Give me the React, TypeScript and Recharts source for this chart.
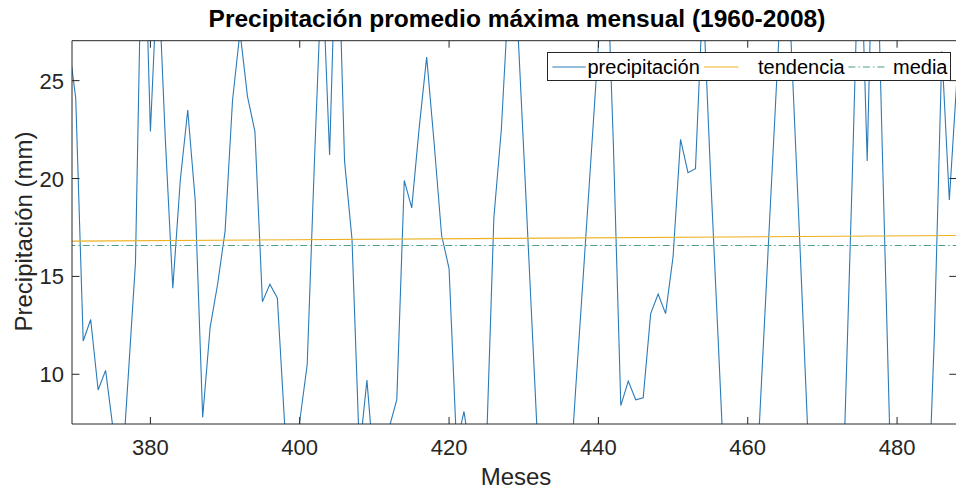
import React from 'react';
import { LineChart, Line, XAxis, YAxis, Legend } from 'recharts';

// ---- data ----
const firstMonth = 369;
const precipitation: number[] = [
  27.1, 24.1, 11.7, 12.8, 9.2, 10.2, 7.2, 3.8, 9.7, 15.7,
  36, 22.4, 31, 22, 14.4, 19.9, 23.5, 18.9, 7.8, 12.4,
  14.6, 17.3, 24.0, 27.5, 24.2, 22.4, 13.7, 14.6, 13.9, 7.3,
  5.0, 7.6, 10.5, 21.2, 31, 21.2, 34.5, 20.9, 16.9, 6.0,
  9.7, 5.0, 5.5, 7.3, 8.7, 19.9, 18.5, 22.6, 26.2, 21.8,
  17.1, 15.4, 6.4, 8.1, 5.5, 4.5, 6.2, 18.0, 22.5, 29.6,
  29.3, 21.4, 13.4, 5.4, 3.0, 2.5, 3.0, 3.6, 9.5, 15.2,
  21.0, 26.8, 33, 21.8, 8.4, 9.65, 8.7, 8.8, 13.1, 14.1,
  13.1, 16.0, 22.0, 20.3, 20.5, 29.5, 20.4, 12.1, 3.7, 3.0,
  2.5, 3.0, 3.2, 10.8, 18.4, 25.9, 33.8, 25.3, 16.5, 7.4,
  4.0, 3.0, 2.5, 3.5, 7.3, 20.1, 34, 20.9, 37, 21.8,
  7.3, 4.0, 3.0, 2.5, 3.0, 1.5, 12, 26.5, 18.9, 25,
];
const trendMonths = [369, 488];
const trendValues = [16.8, 17.09];
const meanValue = 16.58;
const xTicks = [380, 400, 420, 440, 460, 480];
const yTicks = [10, 15, 20, 25];
const xDomain: [number, number] = [369.5, 488];
const yDomain: [number, number] = [7.46, 27.04];
const legendOrder = ['precipitacion', 'tendencia', 'media'];

const tableData = precipitation.map((v, i) => {
  const mes = firstMonth + i;
  const ti = trendMonths.indexOf(mes);
  return {
    mes,
    precipitacion: v,
    tendencia: ti >= 0 ? trendValues[ti] : null,
    media: ti >= 0 ? meanValue : null,
  };
});

const FONT = '"Liberation Sans", Arial, Helvetica, sans-serif';
const AX = '#262626';

const BottomTick = (props: any) => {
  const { x, y, payload } = props;
  return (
    <g>
      <line x1={x} x2={x} y1={y} y2={y - 7} stroke={AX} strokeWidth={1} />
      <text x={x} y={y + 31} textAnchor="middle" fontSize={22} fontFamily={FONT} fill={AX}>
        {payload.value}
      </text>
    </g>
  );
};
const TopTick = (props: any) => {
  const { x, y } = props;
  return <line x1={x} x2={x} y1={y} y2={y + 7} stroke={AX} strokeWidth={1} />;
};
const LeftTick = (props: any) => {
  const { x, y, payload } = props;
  return (
    <g>
      <line x1={x} x2={x + 7.5} y1={y} y2={y} stroke={AX} strokeWidth={1} />
      <text x={x - 8} y={y + 8} textAnchor="end" fontSize={22} fontFamily={FONT} fill={AX}>
        {payload.value}
      </text>
    </g>
  );
};
const RightTick = (props: any) => {
  const { x, y } = props;
  return <line x1={x} x2={x - 7.5} y1={y} y2={y} stroke={AX} strokeWidth={1} />;
};

const legendLayout = [
  { s0: 4.4, s1: 37.7, t: 39.5 },
  { s0: 156, s1: 190.4, t: 210 },
  { s0: 300.4, s1: 337, t: 345 },
];

const LegendContent = (props: any) => {
  const payload: any[] = props.payload || [];
  const ordered = legendOrder
    .map((k) => payload.find((e: any) => e.dataKey === k))
    .filter(Boolean);
  return (
    <svg width={402} height={27} style={{ display: 'block' }}>
      {ordered.map((entry: any, i: number) => {
        const L = legendLayout[i] || legendLayout[0];
        const dash = entry.payload && entry.payload.strokeDasharray;
        return (
          <g key={i}>
            <line x1={L.s0} x2={L.s1} y1={14} y2={14} stroke={entry.color} strokeWidth={1.1} strokeDasharray={dash} />
            <text x={L.t} y={20.5} fontSize={20} fontFamily={FONT} fill="#000">
              {entry.value}
            </text>
          </g>
        );
      })}
    </svg>
  );
};

export default function App() {
  return (
    <div style={{ position: 'absolute', left: 0, top: 0, width: 956, height: 490, overflow: 'hidden', background: '#fff' }}>
      <LineChart
        width={960}
        height={490}
        data={tableData}
        margin={{ top: 39.7, right: 2.2, bottom: 65, left: 71 }}
      >
        <XAxis
          dataKey="mes"
          type="number"
          domain={xDomain}
          allowDataOverflow
          ticks={xTicks}
          interval={0}
          height={1}
          tickSize={0}
          tickMargin={0}
          tickLine={false}
          axisLine={{ stroke: AX, strokeWidth: 1 }}
          tick={(p: any) => <BottomTick {...p} />}
        />
        <XAxis
          xAxisId="top"
          orientation="top"
          dataKey="mes"
          type="number"
          domain={xDomain}
          allowDataOverflow
          ticks={xTicks}
          interval={0}
          height={1}
          tickSize={0}
          tickMargin={0}
          tickLine={false}
          axisLine={{ stroke: AX, strokeWidth: 1 }}
          tick={(p: any) => <TopTick {...p} />}
        />
        <YAxis
          type="number"
          domain={yDomain}
          allowDataOverflow
          ticks={yTicks}
          interval={0}
          width={1}
          tickSize={0}
          tickMargin={0}
          tickLine={false}
          axisLine={{ stroke: AX, strokeWidth: 1 }}
          tick={(p: any) => <LeftTick {...p} />}
        />
        <YAxis
          yAxisId="right"
          orientation="right"
          type="number"
          domain={yDomain}
          allowDataOverflow
          ticks={yTicks}
          interval={0}
          width={1}
          tickSize={0}
          tickMargin={0}
          tickLine={false}
          axisLine={{ stroke: AX, strokeWidth: 1 }}
          tick={(p: any) => <RightTick {...p} />}
        />
        <Line
          type="linear"
          dataKey="precipitacion"
          name="precipitación"
          stroke="#2b7bb9"
          strokeWidth={1.1}
          dot={false}
          activeDot={false}
          isAnimationActive={false}
        />
        <Line
          type="linear"
          dataKey="tendencia"
          name="tendencia"
          stroke="#EDB120"
          strokeWidth={1.1}
          dot={false}
          activeDot={false}
          connectNulls
          isAnimationActive={false}
        />
        <Line
          type="linear"
          dataKey="media"
          name="media"
          stroke="#4aa08a"
          strokeWidth={1.1}
          strokeDasharray="7 3 1.5 3"
          dot={false}
          activeDot={false}
          connectNulls
          isAnimationActive={false}
        />
        <Legend
          layout="horizontal"
          verticalAlign="middle"
          align="center"
          content={(p: any) => <LegendContent {...p} />}
          wrapperStyle={{
            position: 'absolute',
            left: 547,
            top: 52,
            width: 404,
            height: 29,
            boxSizing: 'border-box',
            border: '1px solid #262626',
            background: '#fff',
          }}
        />
      </LineChart>
      <svg
        width={956}
        height={490}
        style={{ position: 'absolute', left: 0, top: 0, pointerEvents: 'none' }}
      >
        <text x={517} y={27} textAnchor="middle" fontSize={24.5} fontWeight="bold" fontFamily={FONT} fill="#000">
          Precipitación promedio máxima mensual (1960-2008)
        </text>
        <text x={516} y={485} textAnchor="middle" fontSize={24} fontFamily={FONT} fill={AX}>
          Meses
        </text>
        <text
          x={31.5}
          y={231.5}
          textAnchor="middle"
          fontSize={24}
          fontFamily={FONT}
          fill={AX}
          transform="rotate(-90 31.5 231.5)"
        >
          Precipitación (mm)
        </text>
      </svg>
    </div>
  );
}
